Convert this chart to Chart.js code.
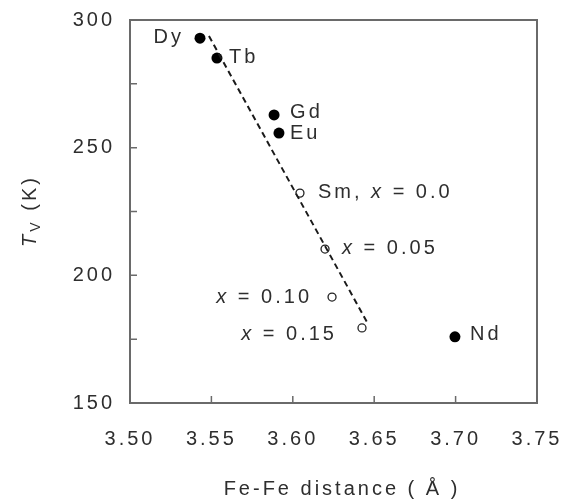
<!DOCTYPE html>
<html><head><meta charset="utf-8">
<script src="https://cdn.jsdelivr.net/npm/chart.js@4.4.0/dist/chart.umd.min.js"></script>
<style>html,body{margin:0;padding:0;background:#fff}#wrap{width:570px;height:504px}</style>
</head><body><div id="wrap"><canvas id="c" width="570" height="504"></canvas></div>
<script>
// Data
const filledNames = ['Dy','Tb','Gd','Eu','Nd'];
const filledX = [3.5430, 3.5534, 3.5885, 3.5915, 3.6996];
const filledY = [292.9, 285.1, 262.8, 255.7, 175.9];
const openNames = ['Sm, x = 0.0','x = 0.05','x = 0.10','x = 0.15'];
const openX = [3.6044, 3.6198, 3.6241, 3.6425];
const openY = [232.2, 210.3, 191.5, 179.4];
const fitX = [3.5485, 3.6456];
const fitY = [293.7, 181.7];
const xTicks = [3.50,3.55,3.60,3.65,3.70,3.75];
const yTicks = [150,175,200,225,250,275,300];
const yLabels = [150,200,250,300];

const FONT = '"Liberation Sans", Arial, sans-serif';
const TXT = '#2e2e2e';
const LS = '3px';

// label placement (style, not data)
const filledLabelPos = [
  {dx:-16, dy:-1, align:'right'}, {dx:12, dy:-1, align:'left'}, {dx:16, dy:-2, align:'left'}, {dx:11, dy:0, align:'left'}, {dx:15, dy:-2, align:'left'}
];
const openLabelPos = [
  {dx:18, dy:-1, align:'left'}, {dx:17, dy:-1, align:'left'}, {dx:-20, dy:0, align:'right'}, {dx:-25, dy:7, align:'right'}
];

function drawRich(ctx, text, x, y, align){
  const parts = [];
  const re = /(\bx\b)/g;
  let last = 0, m;
  while((m = re.exec(text))){ if(m.index>last) parts.push([text.slice(last,m.index),false]); parts.push(['x',true]); last = m.index+1; }
  if(last<text.length) parts.push([text.slice(last),false]);
  const fN = '20px '+FONT, fI = 'italic 20px '+FONT;
  let w = 0;
  parts.forEach(p=>{ctx.font = p[1]?fI:fN; w += ctx.measureText(p[0]).width;});
  let sx = align==='right' ? x - w : x;
  ctx.textAlign='left'; ctx.textBaseline='middle';
  parts.forEach(p=>{ctx.font = p[1]?fI:fN; ctx.fillText(p[0], sx, y); sx += ctx.measureText(p[0]).width;});
}

const deco = {
  id:'deco',
  beforeDraw(chart){ try{ chart.ctx.letterSpacing = LS; }catch(e){} },
  afterDatasetsDraw(chart){
    const {ctx, chartArea:a, scales:{x,y}} = chart;
    ctx.save();
    try{ ctx.letterSpacing = LS; }catch(e){}
    // box
    ctx.strokeStyle='#6a6a6a'; ctx.lineWidth=2;
    ctx.strokeRect(a.left, a.top, a.right-a.left, a.bottom-a.top);
    // inward ticks
    ctx.lineWidth=1.5;
    ctx.beginPath();
    xTicks.forEach(v=>{const px=x.getPixelForValue(v); ctx.moveTo(px,a.bottom); ctx.lineTo(px,a.bottom-7);});
    yTicks.forEach(v=>{const py=y.getPixelForValue(v); ctx.moveTo(a.left,py); ctx.lineTo(a.left+7,py);});
    ctx.stroke();
    // point labels
    ctx.fillStyle=TXT;
    filledNames.forEach((n,i)=>{
      const p = filledLabelPos[i];
      drawRich(ctx, n, x.getPixelForValue(filledX[i])+p.dx, y.getPixelForValue(filledY[i])+p.dy, p.align);
    });
    openNames.forEach((n,i)=>{
      const p = openLabelPos[i];
      drawRich(ctx, n, x.getPixelForValue(openX[i])+p.dx, y.getPixelForValue(openY[i])+p.dy, p.align);
    });
    // x axis title
    ctx.textAlign='center'; ctx.textBaseline='middle';
    ctx.font='20px '+FONT;
    ctx.fillText('Fe-Fe distance ( Å )', 342, 489);
    // y title: T_V (K)
    ctx.translate(30, 211);
    ctx.rotate(-Math.PI/2);
    ctx.textAlign='left';
    const fT='italic 20px '+FONT, fS='14px '+FONT, fN='20px '+FONT;
    ctx.font=fT; const wT=ctx.measureText('T').width;
    ctx.font=fS; const wS=ctx.measureText('V').width;
    ctx.font=fN; const wK=ctx.measureText(' (K)').width;
    let sx = -(wT+wS+wK)/2;
    ctx.font=fT; ctx.fillText('T', sx, 0); sx+=wT;
    ctx.font=fS; ctx.fillText('V', sx, 6); sx+=wS;
    ctx.font=fN; ctx.fillText(' (K)', sx, 0);
    ctx.restore();
  }
};

function noPad(s){ s.paddingTop=0; s.paddingBottom=0; s.paddingLeft=0; s.paddingRight=0; }

new Chart(document.getElementById('c'), {
  type:'scatter',
  data:{datasets:[
    {label:'fit', data:fitX.map((v,i)=>({x:v,y:fitY[i]})), showLine:true, borderColor:'#1a1a1a', borderWidth:2, borderDash:[6,4], pointRadius:0, fill:false},
    {label:'filled', data:filledX.map((v,i)=>({x:v,y:filledY[i]})), pointRadius:5.5, backgroundColor:'#000', borderColor:'#000', borderWidth:0},
    {label:'open', data:openX.map((v,i)=>({x:v,y:openY[i]})), pointRadius:4, backgroundColor:'#fff', borderColor:'#222', borderWidth:1.3}
  ]},
  options:{
    responsive:false, animation:false, devicePixelRatio:1,
    layout:{padding:{top:20,right:33,left:0,bottom:0}},
    plugins:{legend:{display:false}, tooltip:{enabled:false}},
    scales:{
      x:{type:'linear', min:3.5, max:3.75, border:{display:false},
        afterBuildTicks(s){s.ticks = xTicks.map(v=>({value:v}));},
        afterFit(s){s.height=101; noPad(s);},
        grid:{display:false, drawTicks:false},
        ticks:{padding:24, color:TXT, font:{size:20, family:FONT}, callback:v=>v.toFixed(2), maxRotation:0, autoSkip:false}},
      y:{type:'linear', min:150, max:300, border:{display:false},
        afterBuildTicks(s){s.ticks = yLabels.map(v=>({value:v}));},
        afterFit(s){s.width=130; noPad(s);},
        grid:{display:false, drawTicks:false},
        ticks:{padding:15, color:TXT, font:{size:20, family:FONT}, autoSkip:false}}
    }
  },
  plugins:[deco]
});
</script></body></html>
